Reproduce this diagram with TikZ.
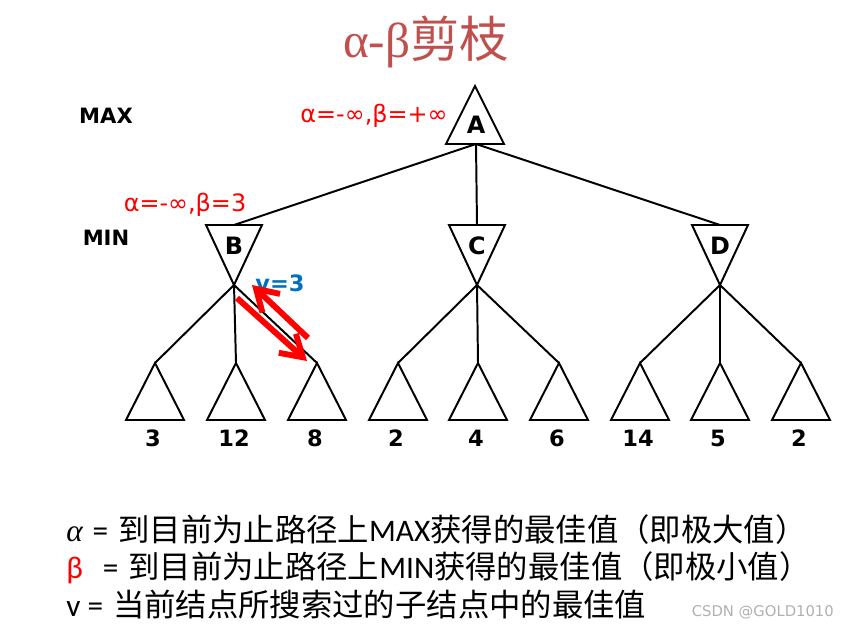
\documentclass[tikz,border=0pt]{standalone}
\usepackage{fontspec}
\usepackage{tikz}
\usetikzlibrary{arrows.meta}
\setmainfont{DejaVu Sans}
\newfontfamily\cjkfont{Noto Sans CJK SC}
\newfontfamily\calfont{Carlito}
\newfontfamily\serfont{Liberation Serif}
\definecolor{titleRed}{HTML}{C0504D}
\definecolor{boundRed}{HTML}{FF0000}
\definecolor{valBlue}{HTML}{0070C0}
\definecolor{markGray}{HTML}{B0B0B0}
\tikzset{
  tri/.style={line width=1.4pt, line join=miter, black},
  edge/.style={line width=1.4pt, black},
  nodename/.style={font=\fontsize{17}{19}\selectfont\bfseries, inner sep=0pt},
  leafnum/.style={font=\fontsize{16}{18}\selectfont\bfseries, inner sep=0pt},
  levelname/.style={font=\fontsize{15}{17}\selectfont\bfseries, inner sep=0pt},
  bound/.style={font=\fontsize{17}{19}\selectfont, text=boundRed, inner sep=0pt},
  pathvalue/.style={font=\fontsize{16}{18}\selectfont\bfseries, text=valBlue,
    inner sep=0pt},
  legend/.style={anchor=west, inner sep=0pt, font=\fontsize{22.3}{25}\selectfont},
  passarrow/.style={-{Straight Barb[length=5.2mm,width=6.4mm]}, line width=4.2pt,
    boundRed},
}

\begin{document}
\begin{tikzpicture}[x=0.025cm, y=-0.025cm]
    \useasboundingbox (0,0) rectangle (848,629);
    \node[font=\fontsize{35}{38}\selectfont, text=titleRed] (title) at (426,42)
      {{\serfont α-β}{\cjkfont 剪枝}};
    \node[levelname] (maxlevel) at (106,116) {MAX};
    \node[levelname] (minlevel) at (106,238) {MIN};
    \draw[tri] (475,86) -- (504,144) -- (446,144) -- cycle;
    \node[nodename] (A) at (476,125) {A};
    \coordinate (A base) at (476,144);
    \foreach \n/\x in {B/234,C/477,D/720} {
      \draw[tri] (\x-28,225) -- (\x+28,225) -- (\x,285) -- cycle;
      \coordinate (\n top) at (\x,225);
      \coordinate (\n tip) at (\x,285);
      \node[nodename] (\n) at (\x,246) {\n};
      \draw[edge] (A base) -- (\n top);
    }
    \foreach \x/\v [count=\i] in {155/3,236/12,317/8,398/2,478/4,559/6,640/14,720/5,801/2} {
      \draw[tri] (\x,363) -- (\x+29,420) -- (\x-29,420) -- cycle;
      \coordinate (leaf\i) at (\x,363);
      \node[leafnum] (val\i) at (\x-2,438) {\v};
    }
    \foreach \p/\c in {B/1,B/2,B/3,C/4,C/5,C/6,D/7,D/8,D/9}
      \draw[edge] (\p tip) -- (leaf\c);
    \node[bound] (rootbound) at (374,116) {α=-∞,β=+∞};
    \node[bound] (bbound) at (185,205) {α=-∞,β=3};
    \node[pathvalue] (bvalue) at (280,283) {v=3};
    \coordinate (down start) at (237,298);
    \coordinate (down end) at (307,361);
    \coordinate (up start) at (308,338);
    \coordinate (up end) at (252,285);
    \draw[passarrow] (down start) -- (down end);
    \draw[passarrow] (up start) -- (up end);
    \node[legend] (legalpha) at (66,530)
      {{\serfont\itshape α} {\calfont =} {\cjkfont 到目前为止路径上}{\calfont MAX}{\cjkfont 获得的最佳值（即极大值）}};
    \node[legend] (legbeta) at (66,568)
      {{\calfont\color{boundRed}β}\ \ {\calfont =} {\cjkfont 到目前为止路径上}{\calfont MIN}{\cjkfont 获得的最佳值（即极小值）}};
    \node[legend] (legv) at (66,605)
      {{\calfont v =} {\cjkfont 当前结点所搜索过的子结点中的最佳值}};
    \node[font=\fontsize{10.5}{12}\selectfont, text=markGray, anchor=east, inner sep=0pt]
      (mark) at (834,612) {CSDN @GOLD1010};
  \end{tikzpicture}
\end{document}
